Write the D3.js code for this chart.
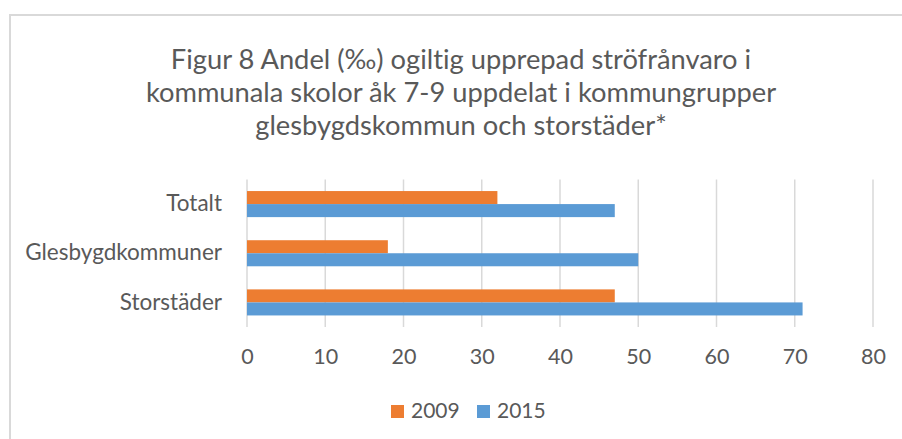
<!DOCTYPE html>
<html>
<head>
<meta charset="utf-8">
<script src="https://cdn.jsdelivr.net/npm/d3@7"></script>
<style>
  body { margin: 0; background: #fff; }
  text { font-family: Lato, "Open Sans", sans-serif; fill: #595959; font-variant-ligatures: none; }
</style>
</head>
<body>
<svg id="chart" width="902" height="439"></svg>
<script>
var titleLines = [
  "Figur 8 Andel (‰) ogiltig upprepad ströfrånvaro i",
  "kommunala skolor åk 7-9 uppdelat i kommungrupper",
  "glesbygdskommun och storstäder*"
];
var categories = ["Totalt", "Glesbygdkommuner", "Storstäder"];
var seriesNames = ["2009", "2015"];
var values2009 = [32, 18, 47];
var values2015 = [47, 50, 71];
var xTicks = [0, 10, 20, 30, 40, 50, 60, 70, 80];
var colors = {"2009": "#ED7D31", "2015": "#5B9BD5"};

var svg = d3.select("#chart");

// chart border (right and bottom edges run off the picture)
svg.append("rect")
  .attr("x", 10).attr("y", 15)
  .attr("width", 1000).attr("height", 1000)
  .attr("fill", "none")
  .attr("stroke", "#d9d9d9")
  .attr("stroke-width", 2);

// title
svg.append("g").selectAll("text")
  .data(titleLines)
  .enter().append("text")
  .attr("x", 461)
  .attr("y", function(d, i){ return 69 + i * 33; })
  .attr("text-anchor", "middle")
  .style("font-size", "27.3px")
  .text(function(d){ return d; });

var x = d3.scaleLinear().domain([0, 80]).range([247, 873]);
var y = d3.scaleBand().domain(categories).range([179.5, 327])
  .paddingInner(0.47).paddingOuter(0.235);
var ySub = d3.scaleBand().domain(seriesNames).range([0, y.bandwidth()]);

// gridlines
svg.append("g").selectAll("line")
  .data(xTicks)
  .enter().append("line")
  .attr("x1", function(d){ return x(d); })
  .attr("x2", function(d){ return x(d); })
  .attr("y1", 179.5).attr("y2", 327)
  .attr("stroke", "#d9d9d9")
  .attr("stroke-width", 1.5);

// x axis labels (no axis line, as in the original)
var xAxis = d3.axisBottom(x).tickValues(xTicks).tickSize(0).tickPadding(0);
var gx = svg.append("g").attr("transform", "translate(0,349)").call(xAxis);
gx.select(".domain").remove();
gx.selectAll("text")
  .attr("dy", "0.71em")
  .style("font-size", "21.5px")
  .style("font-family", "Lato, sans-serif")
  .attr("fill", "#595959");

// category labels
var yAxis = d3.axisLeft(y).tickSize(0).tickPadding(25);
var gy = svg.append("g").attr("transform", "translate(247,0)").call(yAxis);
gy.select(".domain").remove();
gy.selectAll("text")
  .style("font-size", "22.5px")
  .style("font-family", "Lato, sans-serif")
  .attr("fill", "#595959");

// bars
var rows = categories.map(function(c, i){
  return {cat: c, vals: [{s: "2009", v: values2009[i]}, {s: "2015", v: values2015[i]}]};
});

var groups = svg.append("g").selectAll("g")
  .data(rows)
  .enter().append("g")
  .attr("transform", function(d){ return "translate(0," + y(d.cat) + ")"; });

groups.selectAll("rect")
  .data(function(d){ return d.vals; })
  .enter().append("rect")
  .attr("x", x(0))
  .attr("y", function(d){ return ySub(d.s); })
  .attr("width", function(d){ return x(d.v) - x(0); })
  .attr("height", ySub.bandwidth())
  .attr("fill", function(d){ return colors[d.s]; });

// legend
var legend = svg.append("g").attr("transform", "translate(391,405)");
var items = legend.selectAll("g")
  .data(seriesNames)
  .enter().append("g")
  .attr("transform", function(d, i){ return "translate(" + (i * 86) + ",0)"; });
items.append("rect")
  .attr("width", 13).attr("height", 13)
  .attr("fill", function(d){ return colors[d]; });
items.append("text")
  .attr("x", 20).attr("y", 13)
  .style("font-size", "21px")
  .text(function(d){ return d; });
</script>
</body>
</html>
